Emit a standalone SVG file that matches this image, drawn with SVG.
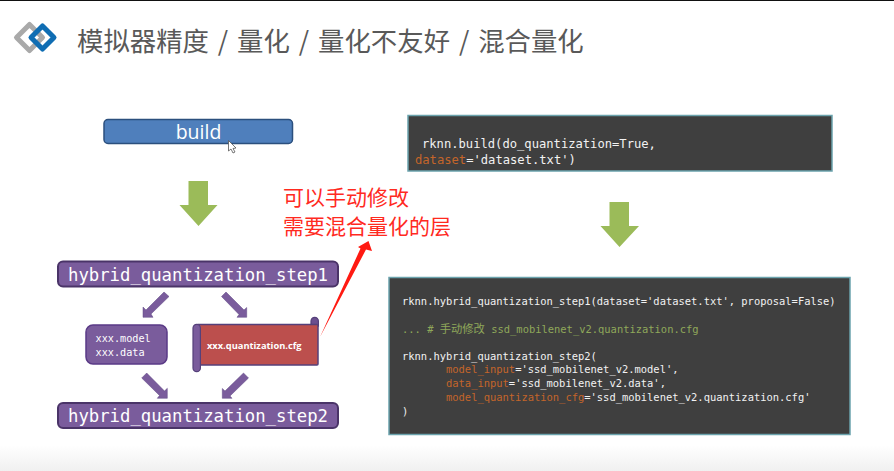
<svg xmlns="http://www.w3.org/2000/svg" width="894" height="471" viewBox="0 0 894 471">
<defs>
<linearGradient id="bottomFade" x1="0" y1="0" x2="0" y2="1"><stop offset="0" stop-color="#ffffff"/><stop offset="1" stop-color="#f0f0f0"/></linearGradient>
</defs>
<style>
.pill{fill:#7a5c9c;stroke:#4a3468;stroke-width:2}
.big{font-family:"DejaVu Sans Mono","Liberation Mono",monospace;font-size:17.3px;fill:#fff}
.code{font-family:"DejaVu Sans Mono","Liberation Mono",monospace;font-size:10.45px;fill:#f2f2f2;white-space:pre}
.codeT{font-family:"DejaVu Sans Mono","Liberation Mono",monospace;font-size:12.15px;fill:#f2f2f2;white-space:pre}
.kw{fill:#c4652a}
.cmt{fill:#8fa85a}
.panel{fill:#3f3f3f;stroke:#6ba3ad;stroke-width:1.5}
.green{fill:#9bbb59}
.purple{fill:#7a5c9c;stroke:#5f4682;stroke-width:.5}
.red{font-family:"Noto Sans CJK SC",sans-serif;font-size:21px;fill:#ff2a1f}
</style>
<rect width="894" height="471" fill="#fff"/>
<rect x="0" y="0" width="894" height="1" fill="#111"/>
<rect y="445" width="894" height="26" fill="url(#bottomFade)"/>

<g id="logo" fill="none" stroke-width="5" stroke-linejoin="round">
<path d="M29.500 24.500L42.500 37.500L29.500 50.500L16.500 37.500Z" stroke="#a9a9a9"/>
<path d="M42.500 26L54 37.500L42.500 49L31 37.500Z" stroke="#0f6db3"/>
</g>
<text id="title" x="77" y="51" font-family="'Noto Sans CJK SC',sans-serif" font-size="26.4" word-spacing="3" fill="#595959">模拟器精度 / 量化 / 量化不友好 / 混合量化</text>

<g id="connectors">
<path class="green" d="M188.500 181H208V205H217.500L198.500 226L179.500 205H188.500Z"/>
<path class="green" d="M609.500 202H629V226H639L619.500 247L600.500 226H609.500Z"/>
<path class="purple" d="M164 292L169 296.500L151 314L153 317.300H143V307L146 310Z"/>
<path class="purple" d="M226 292L221.500 296.500L239 314.500L237 317.300H246.700V307.500L244 310Z"/>
<path class="purple" d="M146.700 373L141.700 378L159.500 395.500L157.300 398.300H167.300V388.300L164.500 391Z"/>
<path class="purple" d="M243.500 373L248.500 378L230 396L232 398.300H222.300V388.500L225 391Z"/>
<path fill="#ff1a12" d="M320 337L360.500 248.500L358 247L368.500 241L372 251L366 249.500Z"/>
</g>

<g id="build">
<rect x="104" y="119.500" width="188.500" height="24" rx="4" fill="#4f7fbc" stroke="#2b4f7d" stroke-width="1.500"/>
<text x="198.500" y="139" text-anchor="middle" font-family="'Open Sans',sans-serif" font-size="19.500" fill="#fff">build</text>
<path d="M228.500 140.500V151L231 149L233 153L235 152L233 148.500L236 148Z" fill="#fff" stroke="#555" stroke-width=".8"/>
</g>

<g id="step1">
<rect class="pill" x="58" y="261.500" width="280" height="25" rx="5"/>
<text class="big" x="68" y="281" textLength="260" lengthAdjust="spacingAndGlyphs">hybrid_quantization_step1</text>
</g>

<g id="model">
<rect x="86" y="325" width="81" height="39" rx="7" fill="#7a5c9c" stroke="#5a3a86" stroke-width="1.500"/>
<text font-family="'DejaVu Sans Mono',monospace" font-size="10.200" fill="#fff"><tspan x="95.500" y="342">xxx.model</tspan><tspan x="95.500" y="355.500">xxx.data</tspan></text>
</g>

<g id="cfg">
<path d="M311 325V321a3.700 3.700 0 0 1 7.400 0V326Z" fill="#6b4f8f" stroke="#55407a" stroke-width="1.200"/>
<rect x="197" y="324.500" width="121" height="40.500" rx="1" fill="#bc4f4d" stroke="#55407a" stroke-width="1.500"/>
<path d="M193 328a3.700 3.700 0 0 1 7.400 0V368a3.700 3.700 0 0 1-7.400 0Z" fill="#7a5c9c" stroke="#55407a" stroke-width="1.200"/>
<text x="207" y="349" font-family="'Open Sans',sans-serif" font-size="9.300" font-weight="700" fill="#fff">xxx.quantization.cfg</text>
</g>

<g id="step2">
<rect class="pill" x="58" y="403" width="280" height="25" rx="5"/>
<text class="big" x="68" y="422" textLength="260" lengthAdjust="spacingAndGlyphs">hybrid_quantization_step2</text>
</g>

<g id="hint">
<text class="red"><tspan x="283" y="205">可以手动修改</tspan><tspan x="283" y="234">需要混合量化的层</tspan></text>
</g>

<g id="codeTop">
<rect class="panel" x="408" y="115.500" width="424" height="55.500"/>
<text class="codeT" x="422" y="147.500">rknn.build(do_quantization=True,</text>
<text class="codeT" x="415" y="163.500"><tspan class="kw">dataset</tspan>='dataset.txt')</text>
</g>

<g id="codeBottom">
<rect class="panel" x="389" y="277.500" width="461" height="157"/>
<text class="code" x="402" y="304.500">rknn.hybrid_quantization_step1(dataset='dataset.txt', proposal=False)</text>
<text class="code cmt" x="402" y="332.500">... # <tspan font-family="'Noto Sans CJK SC',sans-serif" font-size="11.300">手动修改</tspan> ssd_mobilenet_v2.quantization.cfg</text>
<text class="code" x="402" y="359.500">rknn.hybrid_quantization_step2(</text>
<text class="code" x="446" y="373"><tspan class="kw">model_input</tspan>='ssd_mobilenet_v2.model',</text>
<text class="code" x="446" y="387"><tspan class="kw">data_input</tspan>='ssd_mobilenet_v2.data',</text>
<text class="code" x="446" y="400.500"><tspan class="kw">model_quantization_cfg</tspan>='ssd_mobilenet_v2.quantization.cfg'</text>
<text class="code" x="402" y="414.500">)</text>
</g>
</svg>
